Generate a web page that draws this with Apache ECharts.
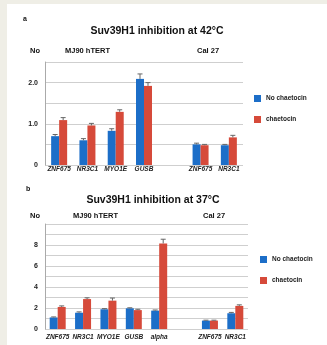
<!DOCTYPE html>
<html><head><meta charset="utf-8">
<script src="https://cdn.jsdelivr.net/npm/echarts@6/dist/echarts.min.js"></script>
<style>html,body{margin:0;padding:0;background:#fff;overflow:hidden}#c{width:327px;height:345px}</style>
</head><body><div id="c"></div>
<script>
// Panel a (42°C)
const catsA = ['ZNF675','NR3C1','MYO1E','GUSB','','ZNF675','NR3C1'];
const noChaetA = [0.70, 0.60, 0.83, 2.09, null, 0.50, 0.48];
const chaetA   = [1.09, 0.96, 1.29, 1.92, null, 0.48, 0.67];
const errNoA   = [0.04, 0.04, 0.05, 0.12, null, 0.03, 0.02];
const errChA   = [0.06, 0.05, 0.05, 0.08, null, 0.02, 0.05];
const ticksA = ['0','1.0','2.0'];
// Panel b (37°C)
const catsB = ['ZNF675','NR3C1','MYO1E','GUSB','alpha','','ZNF675','NR3C1'];
const noChaetB = [1.10, 1.55, 1.88, 1.97, 1.75, null, 0.80, 1.50];
const chaetB   = [2.10, 2.85, 2.70, 1.80, 8.15, null, 0.80, 2.20];
const errNoB   = [0.05, 0.08, 0.06, 0.05, 0.06, null, 0.04, 0.08];
const errChB   = [0.10, 0.12, 0.25, 0.08, 0.40, null, 0.04, 0.10];
const ticksB = ['0','2','4','6','8'];

const BLUE = '#1c6ec8', RED = '#d64a3a';
const BW = 8;

function errSeries(vals, errs, gi, side){
  return {
    type:'custom', xAxisIndex:gi, yAxisIndex:gi, z:5,
    data: vals.map((v,i)=> v==null ? null : [i, v, errs[i]]),
    renderItem: function(params, api){
      const x = api.value(0), v = api.value(1), e = api.value(2);
      const top = api.coord([x, v + e]);
      const base = api.coord([x, v]);
      const cx = top[0] + side * BW/2;
      return {type:'group', children:[
        {type:'line', shape:{x1:cx, y1:base[1], x2:cx, y2:top[1]}, style:{stroke:'#666', lineWidth:1}},
        {type:'line', shape:{x1:cx-2.5, y1:top[1], x2:cx+2.5, y2:top[1]}, style:{stroke:'#666', lineWidth:1}}
      ]};
    }
  };
}

const xLab = (m) => ({fontSize:6.5, fontWeight:'bold', fontStyle:'italic', color:'#222', margin:m, interval:0, fontFamily:'Liberation Sans'});
const txt = (t, x, y, size) => ({type:'text', left:x, top:y, style:{text:t, font:'bold '+size+'px "Liberation Sans"', fill:'#111'}});

const chart = echarts.init(document.getElementById('c'));
chart.setOption({
  animation:false,
  backgroundColor:'#ffffff',
  graphic:[
    {type:'rect', shape:{x:0,y:0,width:327,height:4}, style:{fill:'#efeee6'}, silent:true},
    {type:'rect', shape:{x:0,y:0,width:7,height:345}, style:{fill:'#efeee6'}, silent:true},
    txt('a', 23, 16, 7),
    txt('No', 30, 47, 7.5),
    txt('MJ90 hTERT', 65, 47, 7.5),
    txt('Cal 27', 197, 47, 7.5),
    txt('b', 26, 186, 7),
    txt('No', 30, 212, 7.5),
    txt('MJ90 hTERT', 73, 212, 7.5),
    txt('Cal 27', 203, 212, 7.5)
  ],
  title:[
    {text:'Suv39H1 inhibition at 42°C', left:152, top:21, textAlign:'center', textStyle:{fontSize:10.5, fontWeight:'bold', color:'#111', fontFamily:'Liberation Sans'}},
    {text:'Suv39H1 inhibition at 37°C', left:148, top:190, textAlign:'center', textStyle:{fontSize:10.5, fontWeight:'bold', color:'#111', fontFamily:'Liberation Sans'}}
  ],
  legend:[
    {orient:'vertical', left:249, top:90, itemWidth:7, itemHeight:7, itemGap:14, icon:'rect',
     data:['No chaetocin','chaetocin'], textStyle:{fontSize:6.5, fontWeight:'bold', color:'#222', fontFamily:'Liberation Sans'}},
    {orient:'vertical', left:255, top:251, itemWidth:7, itemHeight:7, itemGap:14, icon:'rect',
     data:['No chaetocin','chaetocin'], textStyle:{fontSize:6.5, fontWeight:'bold', color:'#222', fontFamily:'Liberation Sans'}}
  ],
  grid:[
    {left:45, right:84, top:62, height:103},
    {left:45, right:79, top:224, height:105}
  ],
  xAxis:[
    {type:'category', gridIndex:0, data:catsA, axisTick:{show:false}, axisLine:{show:false}, axisLabel:xLab(1)},
    {type:'category', gridIndex:1, data:catsB, axisTick:{show:false}, axisLine:{show:false}, axisLabel:xLab(5)}
  ],
  yAxis:[
    {type:'value', gridIndex:0, min:0, max:2.5, interval:0.5,
     axisLine:{show:true, lineStyle:{color:'#aaa'}}, axisTick:{show:false},
     splitLine:{lineStyle:{color:'#cfcfcf', width:1}},
     axisLabel:{fontSize:7, fontWeight:'bold', color:'#222', margin:7, fontFamily:'Liberation Sans',
       formatter: v => { const i = ticksA.indexOf(v===0?'0':v.toFixed(1)); return i>=0 ? ticksA[i] : ''; }}},
    {type:'value', gridIndex:1, min:0, max:10, interval:1,
     axisLine:{show:true, lineStyle:{color:'#aaa'}}, axisTick:{show:false},
     splitLine:{lineStyle:{color:'#cfcfcf', width:1}},
     axisLabel:{fontSize:7, fontWeight:'bold', color:'#222', margin:7, fontFamily:'Liberation Sans',
       formatter: v => { const i = ticksB.indexOf(String(v)); return i>=0 ? ticksB[i] : ''; }}}
  ],
  series:[
    {name:'No chaetocin', type:'bar', xAxisIndex:0, yAxisIndex:0, data:noChaetA, barWidth:BW, barGap:'0%', itemStyle:{color:BLUE}},
    {name:'chaetocin', type:'bar', xAxisIndex:0, yAxisIndex:0, data:chaetA, barWidth:BW, barGap:'0%', itemStyle:{color:RED}},
    {name:'No chaetocin', type:'bar', xAxisIndex:1, yAxisIndex:1, data:noChaetB, barWidth:BW, barGap:'0%', itemStyle:{color:BLUE}},
    {name:'chaetocin', type:'bar', xAxisIndex:1, yAxisIndex:1, data:chaetB, barWidth:BW, barGap:'0%', itemStyle:{color:RED}},
    errSeries(noChaetA, errNoA, 0, -1),
    errSeries(chaetA, errChA, 0, 1),
    errSeries(noChaetB, errNoB, 1, -1),
    errSeries(chaetB, errChB, 1, 1)
  ]
});
</script></body></html>
